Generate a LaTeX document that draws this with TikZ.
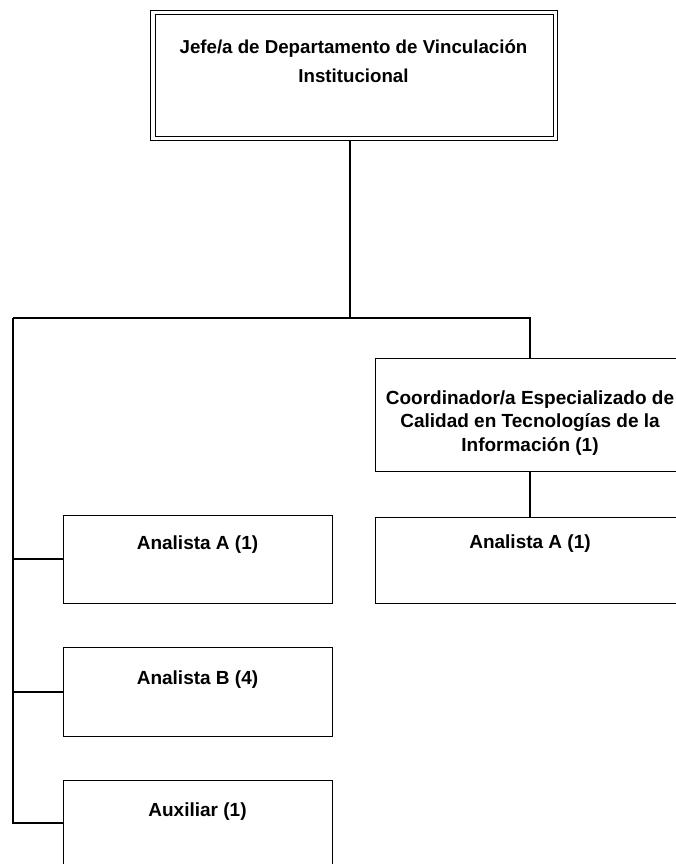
\documentclass[tikz,border=0pt]{standalone}
\usepackage{fontspec}
\setmainfont{Liberation Sans}
\begin{document}
\begin{tikzpicture}[x=1pt,y=-1pt,
  box/.style={draw, line width=1.4pt, rectangle, inner sep=0pt, anchor=north west},
  lbl/.style={font=\bfseries\fontsize{19}{23.5}\selectfont, align=center, inner sep=0pt},
  conn/.style={draw, line width=1.4pt}]
\useasboundingbox (0,0) rectangle (676,864);
\begin{scope}
\clip (0,0) rectangle (676,864);
% top box double border
\node[box, line width=1pt, minimum width=407pt, minimum height=130pt] (top) at (150,10) {};
\node[box, line width=1.3pt, minimum width=398pt, minimum height=122pt] (topin) at (155,14) {};
\node[lbl, font=\bfseries\fontsize{18.7}{29}\selectfont] (toptxt) at (353.5,61) {Jefe/a de Departamento de Vinculación\\Institucional};
% coordinator
\node[box, minimum width=310pt, minimum height=113pt] (coord) at (375,358) {};
\node[lbl] (coordtxt) at (530,423) {Coordinador/a Especializado de\\Calidad en Tecnologías de la\\Información (1)};
% right analyst
\node[box, minimum width=310pt, minimum height=86pt] (ar) at (375,517) {};
\node[lbl] (artxt) at (530,544) {Analista A (1)};
% left boxes
\node[box, minimum width=269pt, minimum height=88pt] (al) at (63,515) {};
\node[lbl] (altxt) at (197.5,545) {Analista A (1)};
\node[box, minimum width=269pt, minimum height=89pt] (bl) at (63,647) {};
\node[lbl] (bltxt) at (197.5,680) {Analista B (4)};
\node[box, minimum width=269pt, minimum height=100pt] (aux) at (63,780) {};
\node[lbl] (auxtxt) at (197.5,812) {Auxiliar (1)};
\end{scope}
% connectors
\coordinate (bus) at (350,318);
\coordinate (busL) at (13,318);
\coordinate (busR) at (530,318);
\draw[conn] (350,140) -- (bus);
\draw[conn] (busL) -- (busR) -- (coord.north -| busR);
\draw[conn] (coord.south -| busR) -- (ar.north -| busR);
\draw[conn] (busL) -- (13,823) -- (aux.west |- 0,823);
\draw[conn] (13,559) -- (al.west |- 0,559);
\draw[conn] (13,692) -- (bl.west |- 0,692);
\end{tikzpicture}
\end{document}
